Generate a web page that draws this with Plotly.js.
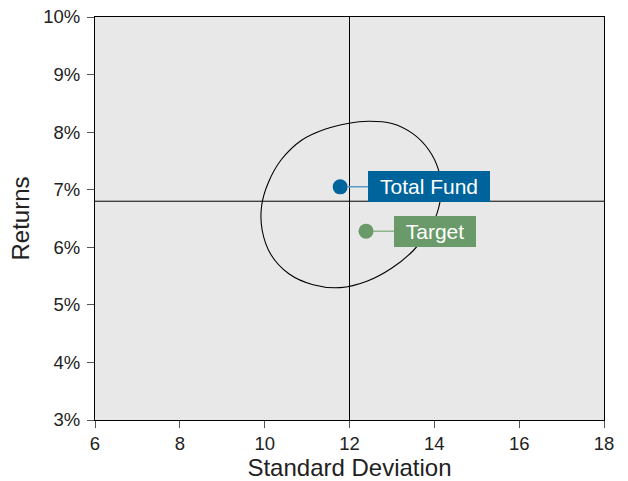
<!DOCTYPE html>
<html>
<head>
<meta charset="utf-8">
<script src="https://cdn.plot.ly/plotly-3.0.1.min.js"></script>
<style>
  html, body { margin: 0; padding: 0; background: #fff; }
  #chart { width: 628px; height: 481px; }
</style>
</head>
<body>
<div id="chart"></div>
<script>
// ---- Data ----
var names = ['Total Fund', 'Target'];
var stdDev = [11.78, 12.39];
var returns = [7.05, 6.28];
var pointColors = ['#00649C', '#6A9A69'];
var connectorColors = ['#5B9BC6', '#8DB58C'];
var labelOffsets = [89, 69];
var labelWidths = [122, 82];

var refStdDev = 12;
var refReturn = 6.8;

var ellipseX = [12.44, 13.00, 13.50, 13.87, 14.10, 14.16, 14.06, 13.86, 13.50, 13.00, 12.41, 11.78, 11.14, 10.57, 10.15, 9.94, 9.93, 10.09, 10.39, 10.87, 11.42, 11.96, 12.44];
var ellipseY = [8.19, 8.15, 7.97, 7.69, 7.34, 6.96, 6.58, 6.27, 5.94, 5.64, 5.41, 5.30, 5.35, 5.54, 5.87, 6.30, 6.73, 7.13, 7.52, 7.86, 8.05, 8.15, 8.19];

var xTicks = [6, 8, 10, 12, 14, 16, 18];
var yTicks = [3, 4, 5, 6, 7, 8, 9, 10];
var yTickText = ['3%', '4%', '5%', '6%', '7%', '8%', '9%', '10%'];

var FONT = 'Liberation Sans, Arial, sans-serif';

var traces = [
  {
    x: ellipseX, y: ellipseY, type: 'scatter', mode: 'lines',
    line: { color: '#000', width: 1.1, shape: 'spline', smoothing: 1 },
    hoverinfo: 'skip', showlegend: false
  },
  {
    x: stdDev, y: returns, type: 'scatter', mode: 'markers',
    marker: { color: pointColors, size: 15 },
    text: names, showlegend: false
  }
];

var annotations = names.map(function (n, i) {
  return {
    x: stdDev[i], y: returns[i], xref: 'x', yref: 'y',
    text: n, showarrow: true, arrowhead: 0, arrowwidth: 1.5,
    arrowcolor: connectorColors[i], standoff: 7,
    ax: labelOffsets[i], ay: 0,
    bgcolor: pointColors[i], borderwidth: 0, borderpad: 0,
    width: labelWidths[i], height: 31,
    font: { family: FONT, size: 21, color: '#fff' }
  };
});

var layout = {
  width: 628, height: 481,
  margin: { l: 95, r: 24, t: 17, b: 61 },
  paper_bgcolor: '#fff',
  plot_bgcolor: '#E8E8E8',
  font: { family: FONT, color: '#222' },
  xaxis: {
    range: [6, 18], tickvals: xTicks, ticktext: xTicks.map(String),
    showgrid: false, zeroline: false,
    showline: true, mirror: true, linecolor: '#000', linewidth: 1,
    ticks: 'outside', ticklen: 7, tickcolor: '#555',
    tickfont: { size: 18.5, color: '#222' },
    title: { text: 'Standard Deviation', font: { size: 24, color: '#222' }, standoff: 8 }
  },
  yaxis: {
    range: [3, 10], tickvals: yTicks, ticktext: yTickText,
    showgrid: false, zeroline: false,
    showline: true, mirror: true, linecolor: '#000', linewidth: 1,
    ticks: 'outside', ticklen: 7, tickcolor: '#555',
    ticklabelstandoff: 3,
    tickfont: { size: 18.5, color: '#222' },
    title: { text: 'Returns', font: { size: 24, color: '#222' }, standoff: 6 }
  },
  shapes: [
    { type: 'line', xref: 'x', yref: 'paper', x0: refStdDev, x1: refStdDev, y0: 0, y1: 1,
      line: { color: '#000', width: 1 }, layer: 'below' },
    { type: 'line', xref: 'paper', yref: 'y', x0: 0, x1: 1, y0: refReturn, y1: refReturn,
      line: { color: '#000', width: 1 }, layer: 'below' }
  ],
  annotations: annotations
};

Plotly.newPlot('chart', traces, layout, { displayModeBar: false, staticPlot: true });
</script>
</body>
</html>
